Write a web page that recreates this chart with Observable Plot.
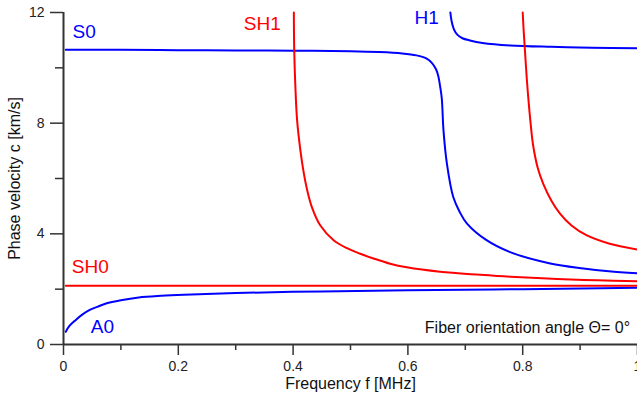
<!DOCTYPE html>
<html>
<head>
<meta charset="utf-8">
<script src="https://cdn.jsdelivr.net/npm/d3@7"></script>
<script src="https://cdn.jsdelivr.net/npm/@observablehq/plot@0.6"></script>
<style>
  html, body { margin: 0; padding: 0; background: #fff; }
  #chart { width: 637px; height: 394px; overflow: hidden; }
  svg { font-family: "Liberation Sans", Arial, sans-serif; }
</style>
</head>
<body>
<div id="chart"></div>
<script>
// ---- Data (frequency f in MHz, phase velocity c in km/s) ----
const s0F  = [0.004, 0.1, 0.2, 0.3, 0.4, 0.5, 0.55, 0.59, 0.615, 0.632, 0.642, 0.649, 0.653, 0.656, 0.659, 0.662, 0.668, 0.679, 0.69, 0.703, 0.737, 0.778, 0.848, 0.906, 0.95, 1.0];
const s0C  = [10.65, 10.65, 10.64, 10.63, 10.62, 10.6, 10.57, 10.52, 10.45, 10.34, 10.17, 9.95, 9.7, 9.35, 8.9, 7.74, 6.53, 5.33, 4.8, 4.37, 3.77, 3.34, 2.93, 2.75, 2.65, 2.57];

const a0F  = [0.004, 0.01, 0.021, 0.032, 0.045, 0.06, 0.074, 0.1, 0.131, 0.17, 0.21, 0.3, 0.45, 0.6, 0.75, 0.9, 1.0];
const a0C  = [0.46, 0.66, 0.88, 1.07, 1.24, 1.37, 1.48, 1.6, 1.70, 1.76, 1.80, 1.86, 1.92, 1.96, 1.99, 2.02, 2.05];

const h1F  = [0.674, 0.676, 0.68, 0.686, 0.695, 0.708, 0.73, 0.778, 0.85, 0.92, 1.0];
const h1C  = [12, 11.7, 11.4, 11.2, 11.07, 10.99, 10.9, 10.81, 10.76, 10.73, 10.71];

const sh0F = [0.004, 1.0];
const sh0C = [2.12, 2.12];

const sh1F = [0.4013, 0.402, 0.404, 0.407, 0.4127, 0.4185, 0.4243, 0.433, 0.4475, 0.4706, 0.494, 0.517, 0.54, 0.569, 0.598, 0.656, 0.726, 0.778, 0.86, 0.93, 1.0];
const sh1C = [12, 10.6, 9.3, 8.1, 7.02, 6.21, 5.6, 4.95, 4.3, 3.77, 3.48, 3.28, 3.11, 2.92, 2.79, 2.63, 2.52, 2.45, 2.37, 2.32, 2.29];

const sh2F = [0.80, 0.8015, 0.804, 0.807, 0.81, 0.814, 0.818, 0.826, 0.836, 0.85, 0.865, 0.885, 0.911, 0.95, 1.0];
const sh2C = [12, 11.4, 10.6, 9.64, 8.85, 7.95, 7.22, 6.4, 5.8, 5.2, 4.73, 4.3, 3.95, 3.65, 3.43];

// mode labels (text, anchor point in data units)
const labelText = ["S0", "SH1", "H1", "SH0", "A0"];
const labelF    = [0.0157, 0.314, 0.6115, 0.0144, 0.0475];
const labelC    = [11.29, 11.59, 11.8, 2.79, 0.64];
const labelMode = ["sym", "sh", "sym", "sh", "sym"];

const xMajor = [0, 0.2, 0.4, 0.6, 0.8, 1];
const xMinor = [0.1, 0.3, 0.5, 0.7, 0.9];
const yMajor = [0, 4, 8, 12];
const yMinor = [2, 6, 10];

const noteText = "Fiber orientation angle \u0398= 0\u00b0";

// ---- Build tables ----
const blue = "#0000ff", red = "#ff0000";
function series(name, kind, F, C) { return F.map((f, i) => ({mode: name, kind, f, c: C[i]})); }
const curves = [
  ...series("S0", "sym", s0F, s0C),
  ...series("A0", "sym", a0F, a0C),
  ...series("H1", "sym", h1F, h1C),
  ...series("SH0", "sh", sh0F, sh0C),
  ...series("SH1", "sh", sh1F, sh1C),
  ...series("SH2", "sh", sh2F, sh2C)
];
const labels = labelText.map((t, i) => ({t, f: labelF[i], c: labelC[i], kind: labelMode[i]}));
const col = k => k === "sym" ? blue : red;

const axisColor = "#333";
const chart = Plot.plot({
  width: 637,
  height: 394,
  marginLeft: 63,
  marginRight: 0,
  marginTop: 12,
  marginBottom: 50,
  style: {fontFamily: "Liberation Sans, Arial, sans-serif", background: "#fff", overflow: "visible"},
  x: {domain: [0, 1]},
  y: {domain: [0, 12]},
  marks: [
    Plot.axisX(xMajor, {tickSize: 11, tickPadding: 6, fontSize: 14, stroke: axisColor, fill: "#222", strokeWidth: 1.5,
      tickFormat: d => String(d), label: null}),
    Plot.axisX(xMinor, {tickSize: 6, tickFormat: () => "", stroke: axisColor, strokeWidth: 1.5, label: null}),
    Plot.axisY(yMajor, {tickSize: 13, tickPadding: 6, fontSize: 14, stroke: axisColor, fill: "#222", strokeWidth: 1.5,
      tickFormat: d => String(d), label: null}),
    Plot.axisY(yMinor, {tickSize: 8, tickFormat: () => "", stroke: axisColor, strokeWidth: 1.5, label: null}),
    Plot.ruleX([0], {stroke: axisColor, strokeWidth: 2}),
    Plot.ruleY([0], {stroke: axisColor, strokeWidth: 2}),
    Plot.line(curves, {x: "f", y: "c", z: "mode", stroke: d => col(d.kind), strokeWidth: 2, curve: "catmull-rom"}),
    Plot.text(labels, {x: "f", y: "c", text: "t", fill: d => col(d.kind), textAnchor: "start", fontSize: 19}),
    Plot.text([noteText], {x: 0.987, y: 0.59, text: d => d, textAnchor: "end", fontSize: 16, fill: "#111"}),
    Plot.text(["Frequency f [MHz]"], {frameAnchor: "bottom", dy: 39, text: d => d, fontSize: 16, fill: "#111", lineAnchor: "middle"}),
    Plot.text(["Phase velocity c [km/s]"], {frameAnchor: "left", textAnchor: "middle", dx: -49, rotate: -90, text: d => d, fontSize: 16, fill: "#111"})
  ]
});
document.getElementById("chart").appendChild(chart);
</script>
</body>
</html>
